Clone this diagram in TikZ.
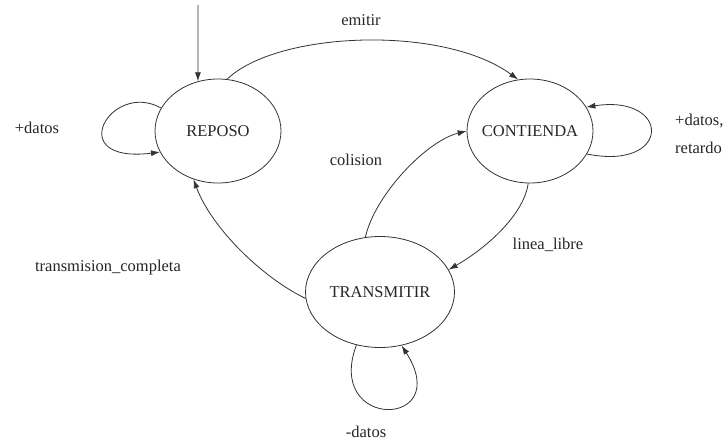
\documentclass[tikz,border=0pt]{standalone}
\usepackage{fontspec}
\setmainfont{Liberation Serif}
\usetikzlibrary{arrows.meta,shapes.geometric}
\begin{document}
\begin{tikzpicture}[x=1pt,y=-1pt,
  every node/.style={font=\fontsize{16.5}{19}\selectfont, text=black!85},
  state/.style={ellipse,draw=black!80,line width=0.8pt,inner sep=0pt},
  lbl/.style={inner sep=0pt},
  edge/.style={draw=black!80,line width=0.8pt,-{Latex[length=9pt,width=6pt]}}]
\useasboundingbox[fill=white] (0,0) rectangle (728,440);
% states
\node[state,minimum width=126pt,minimum height=104pt] (rep) at (218,131) {\makebox[0pt]{REPOSO}};
\node[state,minimum width=126pt,minimum height=104pt] (cont) at (530,131) {\makebox[0pt]{CONTIENDA}};
\node[state,minimum width=149pt,minimum height=111pt] (tx) at (380,292) {\makebox[0pt]{TRANSMITIR}};
% initial arrow
\coordinate (init) at (198,5);
\draw[edge] (init) -- (rep.112);
% transitions
\draw[edge] (rep.80) .. controls +(50,-48) and +(-75,-55) .. (cont.103);
\draw[edge] (rep.158) .. controls +(-50,-28) and +(-98,12) .. (rep.200);
\draw[edge] (cont.-22) .. controls +(85,17) and +(85,-13) .. (cont.23);
\draw[edge] (tx.105) .. controls +(10,-43) and +(-40,10) .. (cont.180);
\draw[edge] (cont.-92) .. controls +(-4,30) and +(40,-23) .. (tx.18);
\draw[edge] (tx.185) .. controls +(-45,-22) and +(18,48) .. (rep.243);
\draw[edge] (tx.246) .. controls +(-32,86) and +(53,83) .. (tx.292);
% labels
\node[lbl] (lemitir) at (361,20) {emitir};
\node[lbl] (ldatos1) at (37,128) {+datos};
\node[lbl,anchor=west,align=left] (lretardo) at (675,134) {+datos,\\[9pt]retardo};
\node[lbl] (lcolision) at (356,160) {colision};
\node[lbl] (llinea) at (548,245) {linea\_libre};
\node[lbl] (ltrans) at (108,268) {transmision\_completa};
\node[lbl] (ldatos2) at (366,432) {-datos};
\end{tikzpicture}
\end{document}
